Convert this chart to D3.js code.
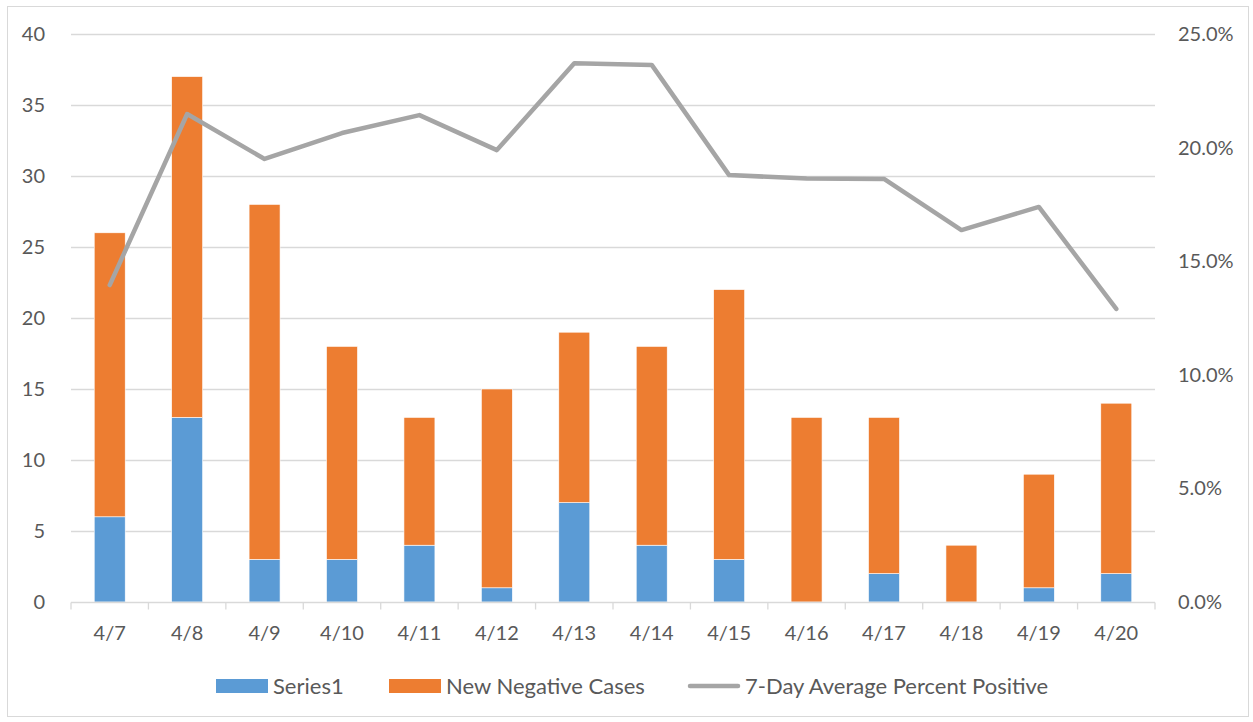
<!DOCTYPE html>
<html>
<head>
<meta charset="utf-8">
<script src="https://cdn.jsdelivr.net/npm/d3@7"></script>
<style>
  body { margin: 0; background: #fff; }
  text { font-family: Lato, "Noto Sans", sans-serif; fill: #595959; }
</style>
</head>
<body>
<div id="chart"></div>
<script>
// data
const dates = ['4/7', '4/8', '4/9', '4/10', '4/11', '4/12', '4/13', '4/14', '4/15', '4/16', '4/17', '4/18', '4/19', '4/20'];
const series1 = [6, 13, 3, 3, 4, 1, 7, 4, 3, 0, 2, 0, 1, 2];
const newNegative = [20, 24, 25, 15, 9, 14, 12, 14, 19, 13, 11, 4, 8, 12];
const pctPositive = [0.1395, 0.2148, 0.1950, 0.2064, 0.2143, 0.1989, 0.2371, 0.2364, 0.1879, 0.1864, 0.1862, 0.1637, 0.1739, 0.1290];
const leftTicks = [0, 5, 10, 15, 20, 25, 30, 35, 40];
const rightTicks = [0, 0.05, 0.10, 0.15, 0.20, 0.25];

const width = 1253, height = 722;
const margin = { top: 34, right: 98, bottom: 120, left: 71 };
const tickFont = '20px';
const legendFont = '22px';

const svg = d3.select('#chart').append('svg')
    .attr('width', width)
    .attr('height', height);

// 外框
svg.append('rect')
    .attr('x', 7.5).attr('y', 6.5)
    .attr('width', width - 12).attr('height', height - 12)
    .attr('fill', 'none').attr('stroke', '#d9d9d9');

const x = d3.scaleBand()
    .domain(dates)
    .range([margin.left, width - margin.right])
    .paddingInner(0.6)
    .paddingOuter(0.3);

const xOuter = d3.scaleBand().domain(dates).range([margin.left, width - margin.right]);

const y = d3.scaleLinear().domain([0, 40]).range([height - margin.bottom, margin.top]);
const y2 = d3.scaleLinear().domain([0, 0.25]).range([height - margin.bottom, margin.top]);

// grid
svg.append('g')
    .selectAll('line')
    .data(leftTicks.filter(d => d > 0))
    .enter().append('line')
    .attr('x1', margin.left).attr('x2', width - margin.right)
    .attr('y1', d => Math.round(y(d)) + 0.5).attr('y2', d => Math.round(y(d)) + 0.5)
    .attr('stroke', '#d9d9d9').attr('stroke-width', 1.3);

// left axis labels
svg.append('g')
    .selectAll('text')
    .data(leftTicks)
    .enter().append('text')
    .attr('x', 45)
    .attr('y', d => y(d))
    .attr('dy', '0.35em')
    .attr('text-anchor', 'end')
    .style('font-size', tickFont)
    .text(d => d);

// right axis labels
svg.append('g')
    .selectAll('text')
    .data(rightTicks)
    .enter().append('text')
    .attr('x', 1178)
    .attr('y', d => y2(d))
    .attr('dy', '0.35em')
    .attr('text-anchor', 'start')
    .style('font-size', tickFont)
    .text(d => d3.format('.1%')(d));

// stacked bars
const rows = dates.map((d, i) => ({ date: d, s1: series1[i], neg: newNegative[i] }));
const stack = d3.stack().keys(['s1', 'neg'])(rows);
const colors = { s1: '#5b9bd5', neg: '#ed7d31' };

svg.append('g')
    .selectAll('g')
    .data(stack)
    .enter().append('g')
    .attr('fill', d => colors[d.key])
    .selectAll('rect')
    .data(d => d.filter(p => p[1] - p[0] > 0))
    .enter().append('rect')
    .attr('x', d => x(d.data.date))
    .attr('width', x.bandwidth())
    .attr('y', d => y(d[1]))
    .attr('height', d => y(d[0]) - y(d[1]))
    .attr('stroke', '#fff')
    .attr('stroke-width', 0.6);

// baseline + ticks
const base = Math.round(y(0)) + 0.5;
svg.append('line')
    .attr('x1', margin.left).attr('x2', width - margin.right)
    .attr('y1', base).attr('y2', base)
    .attr('stroke', '#d9d9d9').attr('stroke-width', 1.3);

svg.append('g')
    .selectAll('line')
    .data(dates.concat(['end']))
    .enter().append('line')
    .attr('x1', d => d === 'end' ? width - margin.right : xOuter(d))
    .attr('x2', d => d === 'end' ? width - margin.right : xOuter(d))
    .attr('y1', base).attr('y2', base + 7)
    .attr('stroke', '#d9d9d9').attr('stroke-width', 1.3);

svg.append('g')
    .selectAll('text')
    .data(dates)
    .enter().append('text')
    .attr('x', d => xOuter(d) + xOuter.bandwidth() / 2)
    .attr('y', 633)
    .attr('dy', '0.35em')
    .attr('text-anchor', 'middle')
    .style('font-size', tickFont)
    .text(d => d);

// 7-day line
const line = d3.line()
    .x((d, i) => x(dates[i]) + x.bandwidth() / 2)
    .y(d => y2(d));

svg.append('path')
    .datum(pctPositive)
    .attr('d', line)
    .attr('fill', 'none')
    .attr('stroke', '#a5a5a5')
    .attr('stroke-width', 4.5)
    .attr('stroke-linejoin', 'round')
    .attr('stroke-linecap', 'round');

// legend
const legend = svg.append('g').attr('transform', 'translate(0,686)');
const legendItems = [
    { label: 'Series1', type: 'rect', color: '#5b9bd5', x: 216 },
    { label: 'New Negative Cases', type: 'rect', color: '#ed7d31', x: 389 },
    { label: '7-Day Average Percent Positive', type: 'line', color: '#a5a5a5', x: 688 }
];

legendItems.forEach(item => {
    if (item.type === 'rect') {
        legend.append('rect')
            .attr('x', item.x).attr('y', -7)
            .attr('width', 52).attr('height', 14)
            .attr('fill', item.color);
    } else {
        legend.append('line')
            .attr('x1', item.x + 2).attr('x2', item.x + 50)
            .attr('y1', 0).attr('y2', 0)
            .attr('stroke', item.color)
            .attr('stroke-width', 4.5)
            .attr('stroke-linecap', 'round');
    }
    legend.append('text')
        .attr('x', item.x + 57)
        .attr('y', 0)
        .attr('dy', '0.35em')
        .style('font-size', legendFont)
        .text(item.label);
});
</script>
</body>
</html>
